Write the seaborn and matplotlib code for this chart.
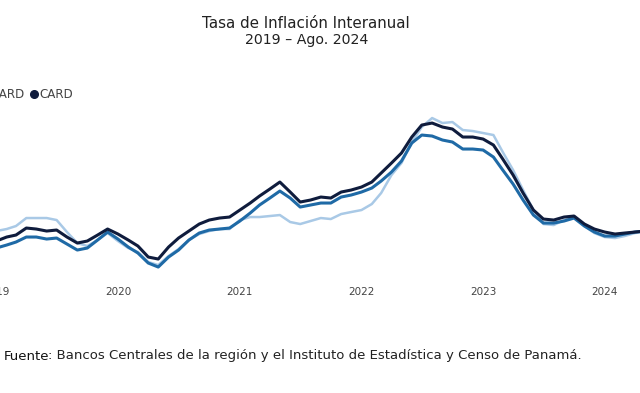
import numpy as np
import pandas as pd
import matplotlib
matplotlib.use("Agg")
import matplotlib.pyplot as plt
import seaborn as sns
from matplotlib.lines import Line2D

# ---- data (monthly, Jan 2019 - Aug 2024) ----
months = pd.date_range("2019-01-01", periods=68, freq="MS")

ca = [2.04, 2.16, 2.34, 2.82, 2.82, 2.82, 2.70, 1.98, 1.32, 1.14, 1.50, 1.92,
      1.44, 1.02, 0.78, 0.18, 0.00, 0.54, 0.96, 1.50, 1.86, 2.04, 2.16, 2.16,
      2.70, 2.88, 2.88, 2.94, 3.00, 2.58, 2.46, 2.64, 2.82, 2.76, 3.06, 3.18,
      3.30, 3.66, 4.32, 5.40, 6.12, 7.38, 8.28, 8.82, 8.52, 8.58, 8.10, 8.04,
      7.92, 7.80, 6.78, 5.70, 4.50, 3.30, 2.46, 2.40, 2.70, 2.88, 2.34, 1.92,
      1.68, 1.62, 1.74, 1.92, 2.00, 2.05, 2.00, 1.95]

capard = [1.02, 1.20, 1.38, 1.68, 1.68, 1.56, 1.62, 1.26, 0.90, 1.02, 1.50, 1.98,
          1.56, 1.08, 0.72, 0.12, -0.12, 0.48, 0.90, 1.50, 1.92, 2.10, 2.16, 2.22,
          2.64, 3.12, 3.60, 4.02, 4.44, 4.02, 3.48, 3.60, 3.72, 3.72, 4.08, 4.20,
          4.38, 4.62, 5.04, 5.58, 6.24, 7.32, 7.80, 7.74, 7.50, 7.38, 6.96, 6.96,
          6.90, 6.48, 5.70, 4.86, 3.90, 3.00, 2.52, 2.52, 2.64, 2.82, 2.34, 1.98,
          1.74, 1.74, 1.86, 1.98, 2.04, 2.10, 2.05, 2.00]

card = [1.44, 1.68, 1.80, 2.22, 2.16, 2.04, 2.10, 1.68, 1.32, 1.44, 1.80, 2.16,
        1.86, 1.50, 1.14, 0.48, 0.36, 1.08, 1.62, 2.04, 2.46, 2.70, 2.82, 2.88,
        3.30, 3.72, 4.14, 4.56, 4.98, 4.38, 3.78, 3.90, 4.08, 4.02, 4.38, 4.50,
        4.68, 4.98, 5.52, 6.12, 6.72, 7.68, 8.40, 8.52, 8.28, 8.16, 7.68, 7.68,
        7.56, 7.20, 6.36, 5.40, 4.32, 3.30, 2.76, 2.70, 2.88, 2.94, 2.46, 2.16,
        1.98, 1.86, 1.92, 1.98, 2.04, 2.10, 2.05, 2.00]

series_names = ["CA", "CAPARD", "CARD"]
colors = ["#a9c9e6", "#1f6aa6", "#0f1c3d"]
widths = [1.8, 2.2, 2.2]
year_ticks = ["2019", "2020", "2021", "2022", "2023", "2024"]

title = "Tasa de Inflación Interanual"
subtitle = "2019 – Ago. 2024"
source_bold = "Fuente"
source_rest = ": Bancos Centrales de la región y el Instituto de Estadística y Censo de Panamá."

df = pd.DataFrame({
    "fecha": np.tile(months, 3),
    "valor": ca + capard + card,
    "serie": np.repeat(series_names, len(months)),
})

sns.set_style("white")
plt.rcParams["font.family"] = ["DejaVu Sans"]

fig = plt.figure(figsize=(6.4, 3.93), dpi=100)
W, H = 640, 393
# axes deliberately extends past the figure edges (the reference is a crop)
ax = fig.add_axes([-14 / W, (H - 281.7) / H, 700 / W, (281.7 - 106.7) / H])

for name, c, lw in zip(series_names, colors, widths):
    sns.lineplot(data=df[df["serie"] == name], x="fecha", y="valor",
                 color=c, linewidth=lw, ax=ax, legend=False)

ax.set_xlim(pd.Timestamp("2018-12-01"), pd.Timestamp("2024-09-01"))
ax.set_ylim(-1.0, 9.5)
ax.set_xticks([pd.Timestamp(f"{y}-01-01") for y in year_ticks])
ax.set_xticklabels(year_ticks, color="#444444", fontsize=7.5)
ax.tick_params(axis="x", length=0, pad=4)
ax.set_yticks([])
ax.set_xlabel("")
ax.set_ylabel("")
for s in ax.spines.values():
    s.set_visible(False)
ax.patch.set_alpha(0)

handles = [Line2D([0], [0], marker="o", linestyle="none", markersize=5.5,
                  markerfacecolor=c, markeredgecolor=c) for c in colors]
fig.legend(handles, series_names, loc="center right",
           bbox_to_anchor=(79 / W, 1 - 95 / H), ncol=3, frameon=False,
           fontsize=8.6, handlelength=0.6, handletextpad=0.15,
           columnspacing=0.45, borderpad=0, labelcolor="#444444")

fig.text(306 / W, 1 - 23 / H, title, ha="center", va="center",
         fontsize=10.9, color="#222222")
fig.text(307 / W, 1 - 40 / H, subtitle, ha="center", va="center",
         fontsize=10.2, color="#222222")

t1 = fig.text(4 / W, 1 - 356 / H, source_bold, ha="left", va="center",
              fontsize=9.5, color="#111111", fontweight="medium")
fig.canvas.draw()
bb = t1.get_window_extent()
fig.text((bb.x1 - 2) / W, 1 - 356 / H, source_rest, ha="left", va="center",
         fontsize=9.5, color="#222222")

fig.savefig("out.png", dpi=100)
